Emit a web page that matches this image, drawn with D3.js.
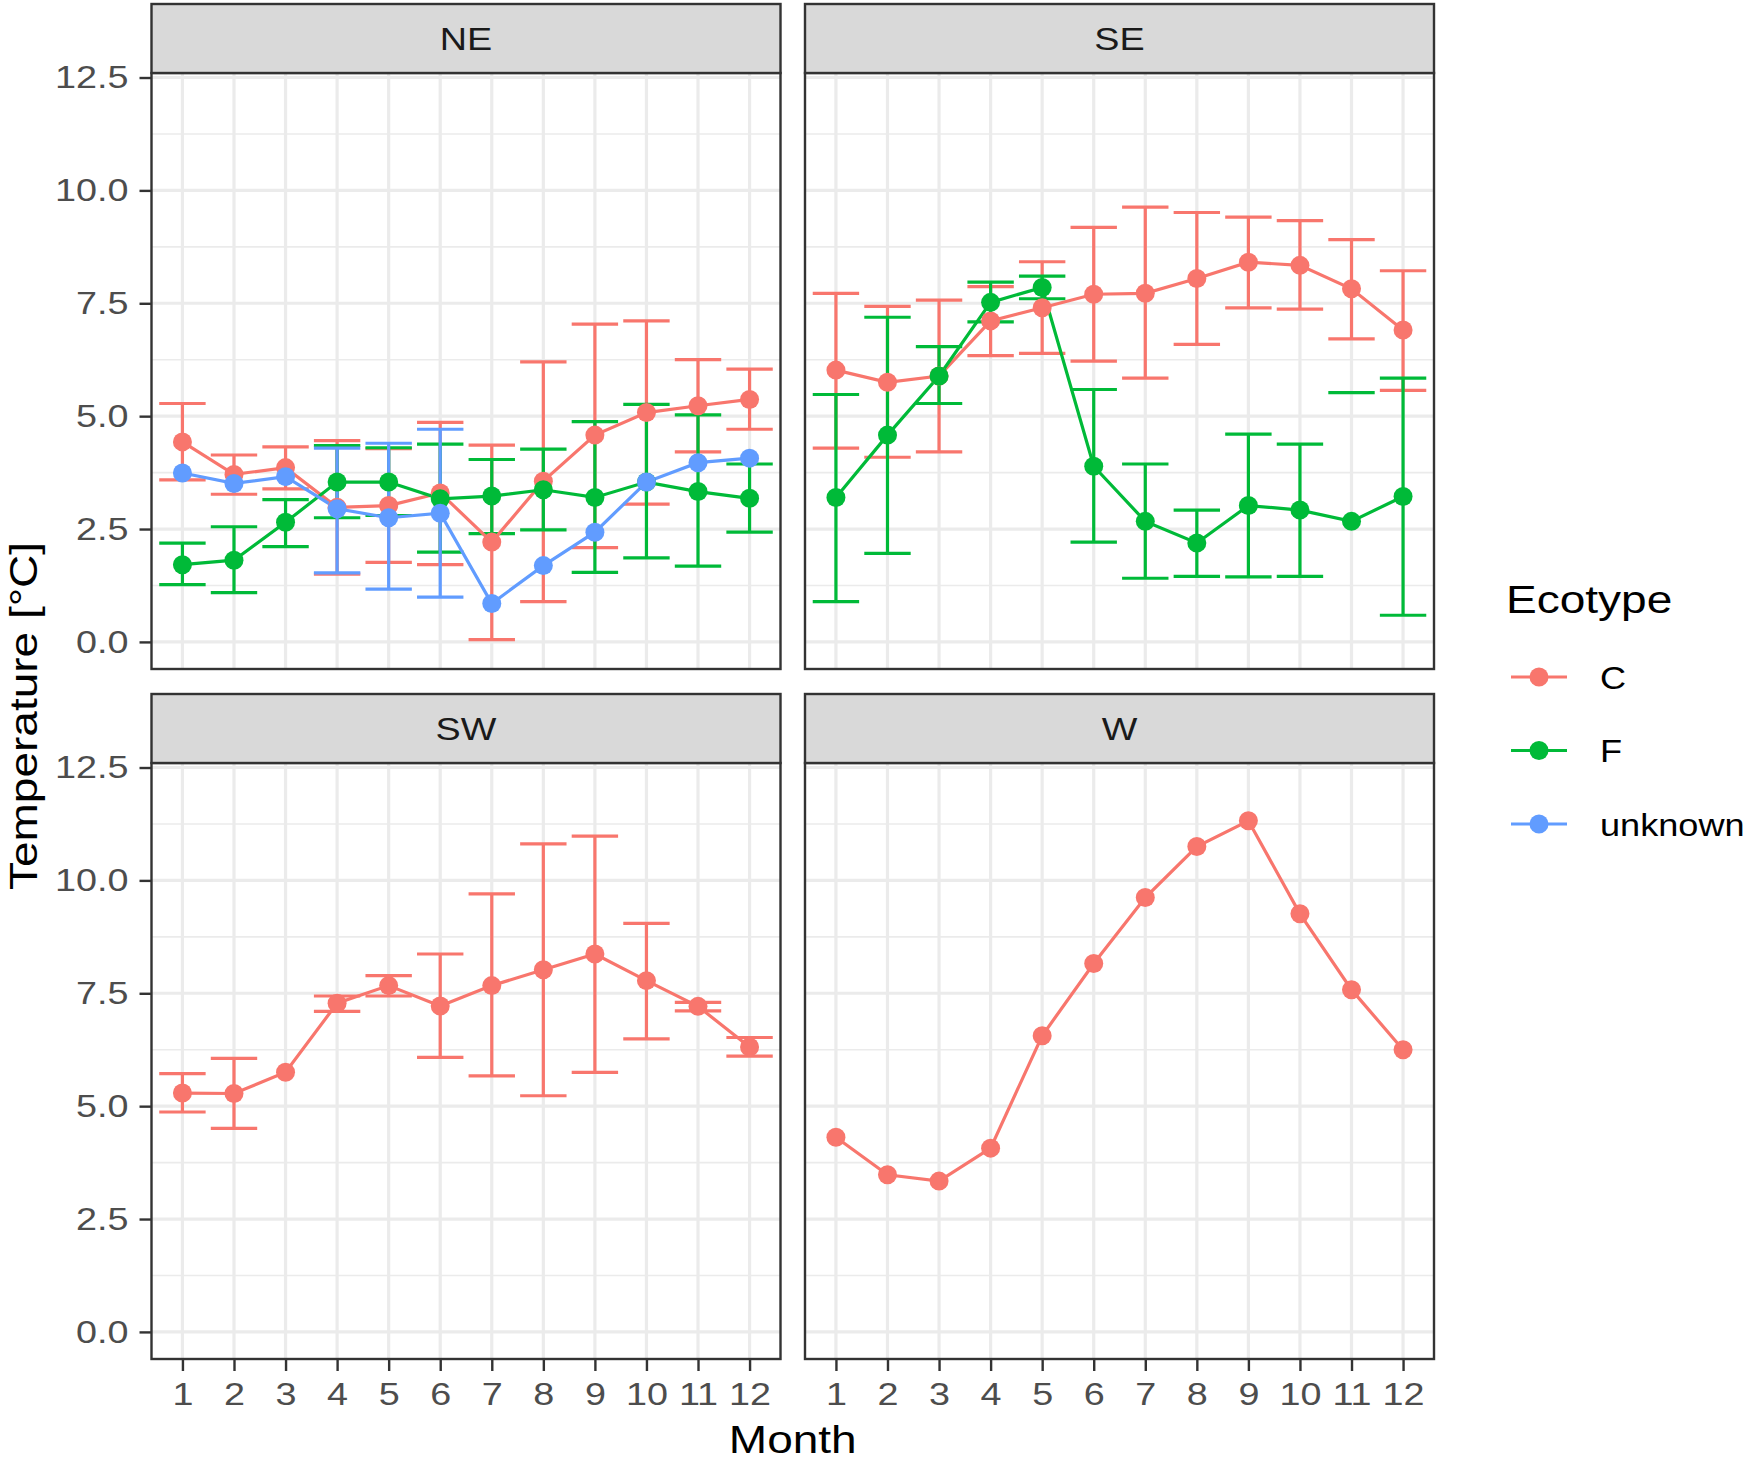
<!DOCTYPE html>
<html>
<head>
<meta charset="utf-8">
<script src="https://cdn.jsdelivr.net/npm/d3@7"></script>
<style>
  body { margin: 0; background: #fff; }
  svg { display: block; font-family: "Liberation Sans", Arial, sans-serif; }
</style>
</head>
<body>
<div id="chart"></div>
<script>
// months on the x axis, regions are facets, ecotypes are colours
const months = [1, 2, 3, 4, 5, 6, 7, 8, 9, 10, 11, 12];
const regions = ["NE", "SE", "SW", "W"];
const ecotypes = ["C", "F", "unknown"];
const ecoColors = ["#F8766D", "#00BA38", "#619CFF"];
const yTicks = [0, 2.5, 5, 7.5, 10, 12.5];

// NE
const neC     = [4.43, 3.71, 3.86, 2.98, 3.02, 3.30, 2.21, 3.56, 4.58, 5.08, 5.23, 5.37];
const neC_lo  = [3.59, 3.27, 3.39, 1.50, 1.76, 1.71, 0.05, 0.89, 2.09, 3.05, 4.21, 4.71];
const neC_hi  = [5.28, 4.14, 4.32, 4.46, 4.28, 4.86, 4.36, 6.20, 7.04, 7.11, 6.25, 6.04];
const neF     = [1.71, 1.81, 2.65, 3.54, 3.54, 3.17, 3.23, 3.37, 3.20, 3.54, 3.33, 3.18];
const neF_lo  = [1.27, 1.09, 2.11, 2.75, 2.80, 1.99, 2.40, 2.48, 1.54, 1.86, 1.68, 2.43];
const neF_hi  = [2.19, 2.55, 3.15, 4.35, 4.30, 4.38, 4.04, 4.27, 4.88, 5.26, 5.03, 3.94];
const neU     = [3.74, 3.51, 3.66, 2.95, 2.75, 2.85, 0.85, 1.69, 2.43, 3.54, 3.97, 4.07];
const neU_lo  = [null, null, null, 1.53, 1.17, 0.99, null, null, null, null, null, null];
const neU_hi  = [null, null, null, 4.29, 4.40, 4.71, null, null, null, null, null, null];

// SE
const seC     = [6.02, 5.75, 5.89, 7.11, 7.40, 7.70, 7.72, 8.05, 8.41, 8.34, 7.82, 6.91];
const seC_lo  = [4.29, 4.09, 4.21, 6.34, 6.39, 6.22, 5.84, 6.59, 7.40, 7.37, 6.71, 5.57];
const seC_hi  = [7.72, 7.43, 7.57, 7.87, 8.42, 9.18, 9.63, 9.51, 9.41, 9.33, 8.91, 8.22];
const seF     = [3.20, 4.58, 5.89, 7.52, 7.85, 3.89, 2.67, 2.19, 3.02, 2.92, 2.67, 3.22];
const seF_lo  = [0.89, 1.96, 5.28, 7.09, 7.60, 2.21, 1.41, 1.45, 1.44, 1.45, null, 0.59];
const seF_hi  = [5.48, 7.19, 6.54, 7.97, 8.10, 5.59, 3.94, 2.92, 4.60, 4.38, 5.52, 5.84];

// SW
const swC     = [5.29, 5.28, 5.75, 7.28, 7.67, 7.22, 7.67, 8.02, 8.37, 7.78, 7.21, 6.31];
const swC_lo  = [4.87, 4.51, null, 7.10, 7.44, 6.08, 5.67, 5.23, 5.75, 6.49, 7.11, 6.11];
const swC_hi  = [5.72, 6.06, null, 7.44, 7.89, 8.37, 9.70, 10.81, 10.98, 9.05, 7.30, 6.52];

// W
const wC      = [4.31, 3.48, 3.34, 4.07, 6.56, 8.16, 9.62, 10.75, 11.32, 9.26, 7.58, 6.25];

const series = [
  { region: "NE", eco: "C", mean: neC, lo: neC_lo, hi: neC_hi },
  { region: "NE", eco: "F", mean: neF, lo: neF_lo, hi: neF_hi },
  { region: "NE", eco: "unknown", mean: neU, lo: neU_lo, hi: neU_hi },
  { region: "SE", eco: "C", mean: seC, lo: seC_lo, hi: seC_hi },
  { region: "SE", eco: "F", mean: seF, lo: seF_lo, hi: seF_hi },
  { region: "SW", eco: "C", mean: swC, lo: swC_lo, hi: swC_hi },
  { region: "W", eco: "C", mean: wC, lo: null, hi: null }
];

const color = d3.scaleOrdinal().domain(ecotypes).range(ecoColors);

// page layout
const W = 1750, H = 1464;
const panelW = 629, panelH = 596, stripH = 69;
const colX = [151.5, 805];
const rowY = [73, 763];   // top of panel area (strip sits above)
const SX = 1.18;          // the original font is wider than Liberation Sans

const svg = d3.select("#chart").append("svg")
  .attr("width", W).attr("height", H);
svg.append("rect").attr("width", W).attr("height", H).attr("fill", "#fff");

// place a text at (px,py) and widen it horizontally
function wideText(parent, px, py, str, size, fill, anchor, rot, sx) {
  return parent.append("text")
    .attr("transform", `translate(${px},${py})` + (rot ? ` rotate(${rot})` : "") + ` scale(${sx || SX},1)`)
    .attr("text-anchor", anchor || "start")
    .attr("fill", fill)
    .style("font-size", size + "px")
    .text(str);
}

function widenTicks(axisG) {
  axisG.selectAll(".tick text").each(function() {
    const t = d3.select(this);
    const tx = +t.attr("x") || 0, ty = +t.attr("y") || 0;
    t.attr("x", 0).attr("y", 0)
      .attr("transform", `translate(${tx},${ty}) scale(${SX},1)`);
  });
}

const x = d3.scaleLinear().domain([0.4, 12.6]).range([0, panelW]);
const y = d3.scaleLinear().domain([-0.6, 12.6]).range([panelH, 0]);

const minorY = d3.range(1.25, 12.6, 2.5);
const capHalf = 0.45;

regions.forEach((reg, i) => {
  const col = i % 2, row = Math.floor(i / 2);
  const g = svg.append("g")
    .attr("transform", `translate(${colX[col]},${rowY[row]})`);

  g.append("rect").attr("width", panelW).attr("height", panelH).attr("fill", "#fff");

  // grid
  g.selectAll(".minor").data(minorY).join("line")
    .attr("x1", 0).attr("x2", panelW)
    .attr("y1", d => y(d)).attr("y2", d => y(d))
    .attr("stroke", "#EBEBEB").attr("stroke-width", 1.6);
  g.selectAll(".majorY").data(yTicks).join("line")
    .attr("x1", 0).attr("x2", panelW)
    .attr("y1", d => y(d)).attr("y2", d => y(d))
    .attr("stroke", "#EBEBEB").attr("stroke-width", 3.2);
  g.selectAll(".majorX").data(months).join("line")
    .attr("y1", 0).attr("y2", panelH)
    .attr("x1", d => x(d)).attr("x2", d => x(d))
    .attr("stroke", "#EBEBEB").attr("stroke-width", 3.2);

  const sub = series.filter(s => s.region === reg);

  // error bars first
  sub.forEach(s => {
    if (!s.hi) return;
    const c = color(s.eco);
    months.forEach((m, k) => {
      const lo = s.lo[k], hi = s.hi[k];
      if (hi == null && lo == null) return;
      if (hi != null && lo != null) {
        g.append("line")
          .attr("x1", x(m)).attr("x2", x(m))
          .attr("y1", y(lo)).attr("y2", y(hi))
          .attr("stroke", c).attr("stroke-width", 3.2);
      }
      [lo, hi].forEach(v => {
        if (v == null) return;
        g.append("line")
          .attr("x1", x(m - capHalf)).attr("x2", x(m + capHalf))
          .attr("y1", y(v)).attr("y2", y(v))
          .attr("stroke", c).attr("stroke-width", 3.2);
      });
    });
  });

  // lines
  const line = d3.line().x((d, k) => x(months[k])).y(d => y(d));
  sub.forEach(s => {
    g.append("path")
      .attr("d", line(s.mean))
      .attr("fill", "none")
      .attr("stroke", color(s.eco))
      .attr("stroke-width", 3.2);
  });

  // points
  sub.forEach(s => {
    g.selectAll(null).data(s.mean).join("circle")
      .attr("cx", (d, k) => x(months[k]))
      .attr("cy", d => y(d))
      .attr("r", 9.5)
      .attr("fill", color(s.eco));
  });

  // panel border
  g.append("rect").attr("width", panelW).attr("height", panelH)
    .attr("fill", "none").attr("stroke", "#333333").attr("stroke-width", 2.4);

  // strip
  g.append("rect")
    .attr("y", -stripH).attr("width", panelW).attr("height", stripH)
    .attr("fill", "#D9D9D9").attr("stroke", "#333333").attr("stroke-width", 2.4);
  wideText(g, panelW / 2, -stripH / 2 + 11.5, reg, 32, "#1A1A1A", "middle");

  // axes
  if (col === 0) {
    const ay = g.append("g").call(
      d3.axisLeft(y).tickValues(yTicks).tickSize(12).tickPadding(11).tickFormat(d3.format(".1f")));
    ay.select(".domain").remove();
    ay.selectAll(".tick line").attr("stroke", "#333333").attr("stroke-width", 2.4);
    ay.selectAll(".tick text").attr("fill", "#4D4D4D").style("font-size", "32px")
      .style("font-family", "'Liberation Sans', Arial, sans-serif");
    widenTicks(ay);
  }
  if (row === 1) {
    const ax = g.append("g").attr("transform", `translate(0,${panelH})`).call(
      d3.axisBottom(x).tickValues(months).tickSize(12).tickPadding(11).tickFormat(d3.format("d")));
    ax.select(".domain").remove();
    ax.selectAll(".tick line").attr("stroke", "#333333").attr("stroke-width", 2.4);
    ax.selectAll(".tick text").attr("fill", "#4D4D4D").style("font-size", "32px")
      .style("font-family", "'Liberation Sans', Arial, sans-serif");
    widenTicks(ax);
  }
});

// axis titles
wideText(svg, (colX[0] + colX[1] + panelW) / 2, 1453, "Month", 39, "#000", "middle");
wideText(svg, 37, (rowY[0] + rowY[1] + panelH) / 2, "Temperature [°C]", 39, "#000", "middle", -90);

// legend
const leg = svg.append("g").attr("transform", "translate(1506,613)");
wideText(leg, 0, 0, "Ecotype", 39, "#000", "start");
ecotypes.forEach((e, k) => {
  const ky = 64 + k * 73.5;
  leg.append("line")
    .attr("x1", 5).attr("x2", 61).attr("y1", ky).attr("y2", ky)
    .attr("stroke", color(e)).attr("stroke-width", 3.2);
  leg.append("circle").attr("cx", 33).attr("cy", ky).attr("r", 9.5).attr("fill", color(e));
  wideText(leg, 94, ky + 11.5, e, 32, "#000", "start", 0, 1.13);
});
</script>
</body>
</html>
